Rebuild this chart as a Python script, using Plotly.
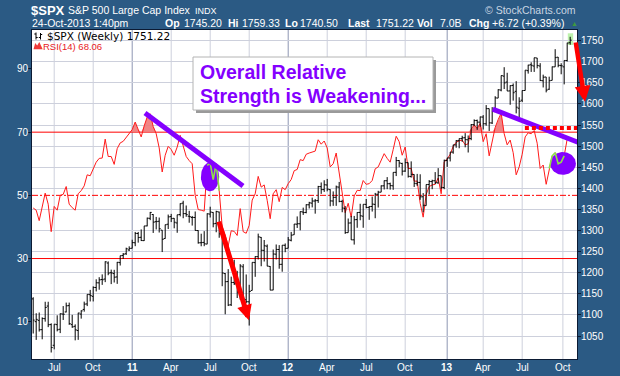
import plotly.graph_objects as go
import pandas as pd
import numpy as np

# ---------------- data (weekly bars, week starting Monday) ----------------
week_start = pd.date_range('2010-05-17', periods=180, freq='7D')

spx_open = [
    1138, 1084, 1087, 1065, 1091, 1121, 1077, 1028, 1077, 1066, 1102, 1107, 1122, 1077, 1073, 1063, 1102,
    1113, 1126, 1148, 1144, 1165, 1176, 1184, 1185, 1223, 1200, 1198, 1190, 1224, 1241, 1245, 1254,
    1258, 1271, 1293, 1284, 1276, 1311, 1329, 1338, 1321, 1322, 1301, 1281, 1315, 1333, 1329, 1318, 1338,
    1365, 1340, 1334, 1331, 1331, 1300, 1271, 1272, 1268, 1339, 1343, 1317, 1344, 1292, 1198, 1179, 1124,
    1177, 1173, 1153, 1214, 1136, 1131, 1158, 1224, 1238, 1284, 1253, 1263, 1215, 1159, 1244, 1255, 1220, 1265,
    1258, 1277, 1290, 1315, 1316, 1344, 1343, 1361, 1365, 1370, 1371, 1404, 1397, 1408, 1397, 1370, 1379,
    1403, 1369, 1352, 1295, 1318, 1278, 1326, 1343, 1334, 1362, 1355, 1357, 1362, 1386, 1391, 1406, 1418,
    1411, 1406, 1438, 1466, 1459, 1441, 1461, 1428, 1433, 1411, 1414, 1380, 1359, 1409, 1416, 1418, 1413,
    1430, 1402,
    1466, 1472, 1486, 1503, 1513, 1518, 1520, 1515, 1518, 1551, 1561, 1557, 1569, 1553, 1589, 1555, 1582,
    1614, 1633, 1666, 1652, 1631, 1644, 1630, 1590, 1609, 1632, 1679, 1693, 1690, 1709, 1690, 1655, 1664,
    1635, 1656, 1688, 1711, 1691, 1688, 1703, 1745.2]

spx_high = [
    1141.9, 1104, 1105.7, 1094.2, 1131.2, 1131.2, 1080, 1078.2, 1099.1, 1103.7, 1121, 1129.2, 1129.2, 1100.1,
    1077.6, 1105.1, 1110.9, 1131.5, 1148.9, 1159.3, 1167.7, 1184.4, 1189.4, 1196.1, 1227.1, 1226.8, 1207.4,
    1206.9, 1225.6, 1240.4, 1246.7, 1259.4, 1262.6,
    1278.2, 1296.7, 1296.7, 1302.7, 1311, 1330.8, 1344.1, 1338.9, 1332.3, 1330.8, 1301, 1314.2, 1337.9,
    1339.5, 1329.5, 1337.5, 1364.6, 1370.6, 1359.4, 1346.8, 1334.6, 1345.2, 1300.6, 1292.5, 1298.6, 1341,
    1356.5, 1343.5, 1347, 1344.8, 1307.4, 1199.3, 1208.5, 1190.7, 1230.7, 1204.4, 1220.4, 1220.4, 1195.9,
    1171.4, 1224.6, 1239, 1292.7, 1284.6, 1277.6, 1267, 1215.7, 1255, 1267, 1265.4, 1265.4, 1269.4,
    1284.6, 1296.8, 1315.5, 1333.5, 1345.3, 1354.3, 1362.2, 1368.1, 1378, 1374.8, 1405.9, 1414, 1419.2,
    1422.4, 1398, 1392.8, 1406.6, 1415.3, 1373, 1358, 1328.5, 1334.9, 1334.7, 1343.3, 1363.5, 1362.2, 1374.8,
    1357.7, 1380.4, 1389.2, 1394.2, 1407.1, 1418.7, 1426.7, 1413.5, 1437.9, 1474.5, 1467, 1460.7, 1470.96,
    1461, 1464, 1433.2, 1434.3, 1433.4, 1388.8, 1409.2, 1419.7, 1420.5, 1438.6, 1448, 1430.2, 1468,
    1472.3, 1486, 1503.3, 1514.4, 1518.3, 1524.7, 1530.9, 1525.3, 1552.5, 1563.6, 1563, 1570.3, 1573.7,
    1597.4, 1589, 1592.6, 1618.5, 1635, 1667.5, 1687.2, 1674, 1644.4, 1648.7, 1654.2, 1615.9, 1632, 1680.2,
    1693, 1698.8, 1709.7, 1709.2, 1696.8, 1669.5, 1664, 1664.8, 1689, 1729.9, 1711.4, 1696.6, 1703.4,
    1745.3, 1759.33]

spx_low = [
    1055.9, 1040.8, 1060.5, 1042.2, 1084, 1071, 1010.9, 1018.4, 1061, 1056.9, 1088, 1106, 1076.4, 1069.4,
    1039.7, 1040.9, 1091.2, 1107.7, 1120.9, 1131.9, 1131.9, 1155.7, 1159.7, 1171.2, 1177.7, 1194.1, 1173,
    1176.8, 1173.6, 1217.1, 1232.8, 1242.2, 1251.5,
    1257.6, 1262.9, 1271.3, 1275.1, 1275.5, 1310, 1324.6, 1294.3, 1302.6, 1295.3, 1249, 1280.6, 1303.6,
    1320.1, 1305.3, 1294.7, 1333.6, 1329.2, 1332.6, 1318.5, 1311.8, 1300, 1268.9, 1262.7, 1262.9, 1267.6,
    1330.9, 1307.7, 1295.9, 1282.9, 1168, 1101.5, 1121, 1121.1, 1171, 1140.1, 1136.2, 1114.2, 1128, 1074.8,
    1158, 1190.3, 1231.5, 1215.4, 1226.6, 1215.4, 1158.7, 1158.6, 1231.5, 1209.5, 1202.4, 1248.6,
    1258, 1274.3, 1290, 1306.1, 1300.5, 1337.1, 1340.8, 1352.3, 1354.9, 1340, 1365.5, 1386.9, 1391.6,
    1392.9, 1357.4, 1358.6, 1358.6, 1367, 1343.4, 1292, 1295, 1277.8, 1266.7, 1306.6, 1324.4, 1306.6,
    1352.8, 1325.4, 1345, 1329.2, 1354.6, 1391, 1397.3, 1398, 1397, 1396.6, 1429.1, 1449.98, 1430.5, 1439,
    1425.5, 1425.5, 1403.3, 1405.9, 1373, 1343.35, 1359, 1385.4, 1398, 1410, 1411, 1398.1, 1398,
    1451, 1463.8, 1482, 1496.3, 1495, 1510.2, 1497.3, 1485, 1514.2, 1547.4, 1538.6, 1546.2, 1539.5, 1548.5,
    1536, 1552.6, 1581.3, 1614, 1630, 1635.5, 1630.7, 1598.2, 1608, 1577.7, 1560.3, 1604.6, 1631.9, 1672,
    1676, 1676, 1684.4, 1654.2, 1639.2, 1627.5, 1633.4, 1656, 1688, 1687, 1670.4, 1646.5, 1700.7, 1740.5]

spx_close = [
    1087.7, 1089.4, 1064.9, 1091.6, 1117.5, 1076.8, 1022.6, 1078, 1064.9, 1102.7, 1101.6, 1121.6, 1079.3,
    1071.7, 1064.6, 1104.5, 1109.6, 1125.6, 1148.7, 1146.2, 1165.2, 1176.2, 1183.1, 1183.3, 1225.9, 1199.2,
    1199.7, 1189.4, 1224.7, 1240.4, 1243.9, 1256.8, 1257.6,
    1271.5, 1293.2, 1283.4, 1276.3, 1310.9, 1329.2, 1343, 1319.9, 1321.2, 1304.3, 1279.2, 1313.8, 1332.4,
    1328.2, 1319.7, 1337.4, 1363.6, 1340.2, 1337.8, 1333.3, 1331.1, 1300.2, 1271, 1271.5, 1268.5, 1339.7,
    1343.8, 1316.1, 1345, 1292.3, 1199.4, 1178.8, 1123.5, 1176.8, 1174, 1154.2, 1216, 1136.4, 1131.4, 1155.5,
    1224.6, 1238.3, 1285.1, 1253.2, 1263.9, 1215.7, 1158.7, 1244.3, 1255.2, 1219.7, 1265.3, 1257.6,
    1277.8, 1289.1, 1315.4, 1316.3, 1344.9, 1342.6, 1361.2, 1365.7, 1370, 1370.9, 1404.2, 1397.1, 1408.5,
    1398.1, 1370.3, 1378.5, 1403.4, 1369.1, 1353.4, 1295.2, 1317.8, 1278, 1325.7, 1342.8, 1335, 1362.2,
    1354.7, 1356.8, 1362.7, 1386, 1391, 1405.9, 1418.2, 1411.1, 1406.6, 1437.9, 1465.8, 1460.2, 1440.7,
    1460.9, 1428.6, 1433.2, 1411.9, 1414.2, 1379.9, 1359.9, 1409.2, 1416.2, 1418.1, 1413.6, 1430.2, 1402.4,
    1466.5,
    1472.1, 1486, 1503, 1513.2, 1517.9, 1519.8, 1515.6, 1518.2, 1551.2, 1560.7, 1556.9, 1569.2, 1553.3,
    1588.9, 1555.3, 1582.2, 1614.4, 1633.7, 1667.5, 1650, 1630.7, 1643.4, 1626.7, 1592.4, 1606.3, 1631.9,
    1680.2, 1692.1, 1691.7, 1709.7, 1691.4, 1655.8, 1663.5, 1633, 1655.2, 1688, 1709.9, 1691.75, 1690.5,
    1703.2, 1744.5, 1751.22]

rsi_14 = [
    46, 45.3, 42, 46.3, 50.7, 47.2, 38.5, 46.5, 45.3, 50, 50.3, 52.8, 47.2, 46.1, 45.3, 50.5, 51.5, 53,
    56.5, 56.2, 58.5, 60.5, 61.7, 61.8, 67.8, 62.3, 62.3, 59.8, 64.8, 66.6, 67.1, 68.3, 69.3,
    70.8, 73.2, 70.8, 68.5, 72, 74.8, 75.8, 71.8, 69.5, 65, 57.4, 62.7, 65.5, 64.5, 62.7, 65.3, 69, 65.5,
    62.3, 61, 60, 50, 45.5, 45.3, 45, 59.5, 60.2, 55, 60, 51.5, 40, 37.5, 34, 38.8, 38.6, 37.3, 45.8, 38.5,
    38, 40.5, 48.5, 50.5, 56, 52.6, 53.3, 48.4, 42.6, 50.5, 51.8, 48, 52.5, 51.8,
    53.7, 55, 57.8, 58.2, 61.3, 61, 63, 63.4, 63.7, 64, 67.6, 66.2, 67.2, 65, 59, 60, 63.4, 57, 50.5, 44.5,
    47.5, 43.1, 49.8, 51.6, 51.5, 54.7, 53.5, 53.7, 54.7, 58.4, 59, 61, 63.2, 61.7, 60.5, 64.5, 68.7, 67,
    62.7, 65.3, 58.5, 58.5, 54.5, 54.5, 47.5, 43.1, 50.3, 52.8, 53.3, 53.5, 55.5, 50.5, 60.5,
    61.5, 63, 65.5, 66.8, 67.3, 67.5, 66, 66.3, 71, 72.3, 71.2, 72.8, 67, 69.5, 62.5, 66.5, 71.5, 74, 76,
    69.5, 66, 67.5, 63.5, 56.5, 59, 63, 68.5, 69.8, 69.5, 70.5, 66.5, 58.5, 59.6, 53.5, 58.5, 62.5, 63.5,
    60, 60.5, 62.5, 67.8, 68.06]

tick_dates = ['2010-07-05', '2010-10-04', '2011-01-03', '2011-04-04', '2011-07-04', '2011-10-03',
              '2012-01-02', '2012-04-02', '2012-07-02', '2012-10-01', '2013-01-07', '2013-04-01',
              '2013-07-01', '2013-10-04']
tick_text = ['Jul', 'Oct', '<b>11</b>', 'Apr', 'Jul', 'Oct', '<b>12</b>', 'Apr', 'Jul', 'Oct',
             '<b>13</b>', 'Apr', 'Jul', 'Oct']
year_lines = ['2011-01-03', '2012-01-02', '2013-01-07']
rsi_ticks = [10, 30, 50, 70, 90]
spx_ticks = list(range(1050, 1751, 50))
green_seg1 = list(range(58, 63))
green_seg2 = list(range(172, 178))

# ---------------- styling / layout helpers ----------------
BG = '#2b5a84'
FONT = 'Liberation Sans, Arial, sans-serif'
PURPLE = '#8400ff'
GRID = '#cdd0dc'
PL, PR, PT, PB = 32, 577, 30, 359


def px(x):
    return (x - PL) / (PR - PL)


def py(y):
    return (PB - y) / (PB - PT)


def wk(i):
    return (pd.Timestamp('2010-05-17') + pd.Timedelta(hours=round(7 * 24 * i))).strftime('%Y-%m-%d %H:%M')


rsi = np.array(rsi_14, dtype=float)
fig = go.Figure()

# overbought fill
fig.add_trace(go.Scatter(x=week_start, y=np.full(len(rsi), 70.0), mode='lines',
                         line=dict(width=0), hoverinfo='skip', showlegend=False))
fig.add_trace(go.Scatter(x=week_start, y=np.maximum(rsi, 70), mode='lines', line=dict(width=0),
                         fill='tonexty', fillcolor='rgba(240,120,120,0.9)', hoverinfo='skip',
                         showlegend=False))
# RSI line
fig.add_trace(go.Scatter(x=week_start, y=rsi, mode='lines', line=dict(color='#ff1a1a', width=1),
                         hoverinfo='skip', showlegend=False))

# hand-drawn purple blobs (drawn over the RSI line)
theta = np.linspace(0, 2 * np.pi, 73)
for (i0, i1, r0, r1) in ((55.9, 62.0, 51.3, 60.4), (172.3, 180.9, 56.5, 63.7)):
    ci, rx = (i0 + i1) / 2, (i1 - i0) / 2
    rc, ry = (r0 + r1) / 2, (r1 - r0) / 2
    fig.add_trace(go.Scatter(x=[wk(ci + rx * np.cos(t)) for t in theta], y=rc + ry * np.sin(theta),
                             mode='lines', fill='toself', fillcolor=PURPLE, line=dict(width=0, color=PURPLE),
                             hoverinfo='skip', showlegend=False))
for seg in (green_seg1, green_seg2):
    fig.add_trace(go.Scatter(x=week_start[seg], y=rsi[seg], mode='lines',
                             line=dict(color='#8fe04a', width=1.6), hoverinfo='skip', showlegend=False))

# price bars
fig.add_trace(go.Ohlc(x=week_start, open=spx_open, high=spx_high, low=spx_low, close=spx_close,
                      yaxis='y2', tickwidth=0.5,
                      increasing=dict(line=dict(color='black', width=1)),
                      decreasing=dict(line=dict(color='black', width=1)),
                      hoverinfo='skip', showlegend=False))

axis_font = dict(family=FONT, size=10, color='white')
fig.update_layout(
    width=620, height=376, margin=dict(l=PL, r=620 - PR, t=PT, b=376 - PB),
    paper_bgcolor=BG, plot_bgcolor='white', showlegend=False,
    xaxis=dict(type='date', range=['2010-05-14 05:00', '2013-11-05 22:00'],
               showticklabels=False, showgrid=False, ticks='', zeroline=False,
               showline=True, linecolor='#0b1a33', linewidth=1, mirror=True,
               rangeslider=dict(visible=False), fixedrange=True),
    yaxis=dict(range=[-1.8, 102.34], tickvals=rsi_ticks, showticklabels=False, showgrid=False,
               zeroline=False, ticks='outside', ticklen=3, tickcolor='#0b1a33',
               showline=True, linecolor='#0b1a33', linewidth=1, mirror=True, fixedrange=True),
    yaxis2=dict(range=[995.5, 1775.4], overlaying='y', side='right', tickvals=spx_ticks,
                showticklabels=False, showgrid=True, gridcolor=GRID, zeroline=False,
                ticks='outside', ticklen=3, tickcolor='#0b1a33', fixedrange=True),
)

shapes = []
# vertical quarter grid lines, darker at year starts
for d in tick_dates:
    shapes.append(dict(type='line', xref='x', yref='paper', x0=d, x1=d, y0=0, y1=1,
                       line=dict(color='#8d96b2' if d in year_lines else GRID, width=1), layer='below'))
# RSI reference lines
for lvl, dash in ((70, 'solid'), (30, 'solid'), (50, '6px,2px,2px,2px')):
    shapes.append(dict(type='line', xref='paper', yref='y', x0=0, x1=1, y0=lvl, y1=lvl,
                       line=dict(color='#ff0000', width=1, dash=dash), layer='below'))
# last bar highlight (SPX 1740..1767 expressed on the left scale)
shapes.append(dict(type='rect', xref='x', yref='y', x0=wk(178.2), x1=wk(180.0), y0=97.6, y1=101.3,
                   fillcolor='#bdf2ad', line=dict(width=0), layer='below'))
# trend lines
shapes.append(dict(type='line', xref='x', yref='y', x0=wk(37.27), x1=wk(69.93), y0=76.1, y1=53.0,
                   line=dict(color=PURPLE, width=5), layer='above'))
shapes.append(dict(type='line', xref='x', yref='y', x0=wk(153.17), x1=wk(181.6), y0=77.3, y1=66.8,
                   line=dict(color=PURPLE, width=5), layer='above'))
# red dotted resistance
shapes.append(dict(type='line', xref='x', yref='y', x0=wk(163.9), x1=wk(181.3), y0=71.3, y1=71.3,
                   line=dict(color='#ff0000', width=4, dash='4px,3px'), layer='above'))
# text box with shadow
shapes.append(dict(type='rect', xref='paper', yref='paper', x0=px(196), x1=px(436), y0=py(113), y1=py(60),
                   fillcolor='#9a9a9a', line=dict(width=0), layer='above'))
shapes.append(dict(type='rect', xref='paper', yref='paper', x0=px(193), x1=px(433), y0=py(110), y1=py(57),
                   fillcolor='white', line=dict(color='#b4b4b4', width=1), layer='above'))
# legend icons
for (bx, y0, y1, yl, yr) in ((36, 32.5, 39.5, 34, 37.5), (40.5, 33, 39.5, 37.5, 34.5)):
    shapes.append(dict(type='line', xref='paper', yref='paper', x0=px(bx), x1=px(bx), y0=py(y0), y1=py(y1),
                       line=dict(color='black', width=1), layer='above'))
    shapes.append(dict(type='line', xref='paper', yref='paper', x0=px(bx - 1.7), x1=px(bx), y0=py(yl), y1=py(yl),
                       line=dict(color='black', width=1), layer='above'))
    shapes.append(dict(type='line', xref='paper', yref='paper', x0=px(bx), x1=px(bx + 1.7), y0=py(yr), y1=py(yr),
                       line=dict(color='black', width=1), layer='above'))
mpath = 'M {:.4f},{:.4f} L {:.4f},{:.4f} L {:.4f},{:.4f} L {:.4f},{:.4f} L {:.4f},{:.4f} Z'.format(
    px(33.5), py(49.3), px(35.2), py(43), px(37.2), py(45.5), px(39.3), py(42), px(42.7), py(49.3))
shapes.append(dict(type='path', xref='paper', yref='paper', path=mpath, fillcolor='#f03c3c',
                   line=dict(width=0), layer='above'))
fig.update_layout(shapes=shapes)


def label(text, x, y, size, color='white', family=FONT, anchor='left', yref='paper'):
    fig.add_annotation(text=text, x=px(x - 2 if anchor == 'left' else x + 2),
                       y=py(y) if yref == 'paper' else y, xref='paper',
                       yref=yref, xanchor=anchor, yanchor='middle', showarrow=False,
                       font=dict(size=size, color=color, family=family))


# axis tick labels placed through the axis scales
for d, t in zip(tick_dates, tick_text):
    fig.add_annotation(text=t, x=d, xref='x', y=py(367), yref='paper', xanchor='center',
                       yanchor='middle', showarrow=False, font=axis_font)
for v in rsi_ticks:
    label(str(v), 28.8, v, 10, anchor='right', yref='y')
for v in spx_ticks:
    label(str(v), 581, v, 10, anchor='left', yref='y2')

# header
label('<b>$SPX</b>', 31, 10, 13)
label('S&P 500 Large Cap Index', 68, 10.3, 10.5)
label('INDX', 195, 10.8, 9)
label('24-Oct-2013 1:40pm', 31.5, 23.5, 10.5)
for txt, x in (('<b>Op</b>', 165), ('1745.20', 184.3), ('<b>Hi</b>', 227.7), ('1759.33', 242.3),
               ('<b>Lo</b>', 285), ('1740.50', 299.8), ('<b>Last</b>', 347.7), ('1751.22', 375.7),
               ('<b>Vol</b>', 416.7), ('7.0B', 440), ('<b>Chg</b>', 468.5), ('+6.72 (+0.39%)', 491.7)):
    label(txt, x, 23.5, 10.5)
label('▲', 570.5, 23.5, 7, color='#3f9a3f')
label('© StockCharts.com', 576, 10.5, 10.5, color='#c9d5e2', anchor='right')
# in-plot legend
label('$SPX (Weekly) 1751.22', 46.7, 35.5, 10.5, color='black', family='DejaVu Sans, Verdana, sans-serif')
label('RSI(14) 68.06', 43, 46, 9.5, color='#e8201e')
# message box text
label('<b>Overall Relative</b>', 200, 71.5, 19.5, color=PURPLE)
label('<b>Strength is Weakening...</b>', 200, 95.5, 19.5, color=PURPLE)

# arrows
fig.add_annotation(x=wk(71.9), y=10.5, xref='x', yref='y', ax=-30.5, ay=-100,
                   showarrow=True, arrowhead=2, arrowsize=0.6, arrowwidth=5,
                   arrowcolor='#ff0000', text='')
fig.add_annotation(x=px(585), y=py(101.7), xref='paper', yref='paper', ax=-9.5, ay=-60.7,
                   showarrow=True, arrowhead=2, arrowsize=0.7, arrowwidth=4.5,
                   arrowcolor='#ff0000', text='')

fig.write_html('out.html', config={'displayModeBar': False, 'staticPlot': True},
               post_script="document.body.style.margin='0px';document.body.style.padding='0px';")
